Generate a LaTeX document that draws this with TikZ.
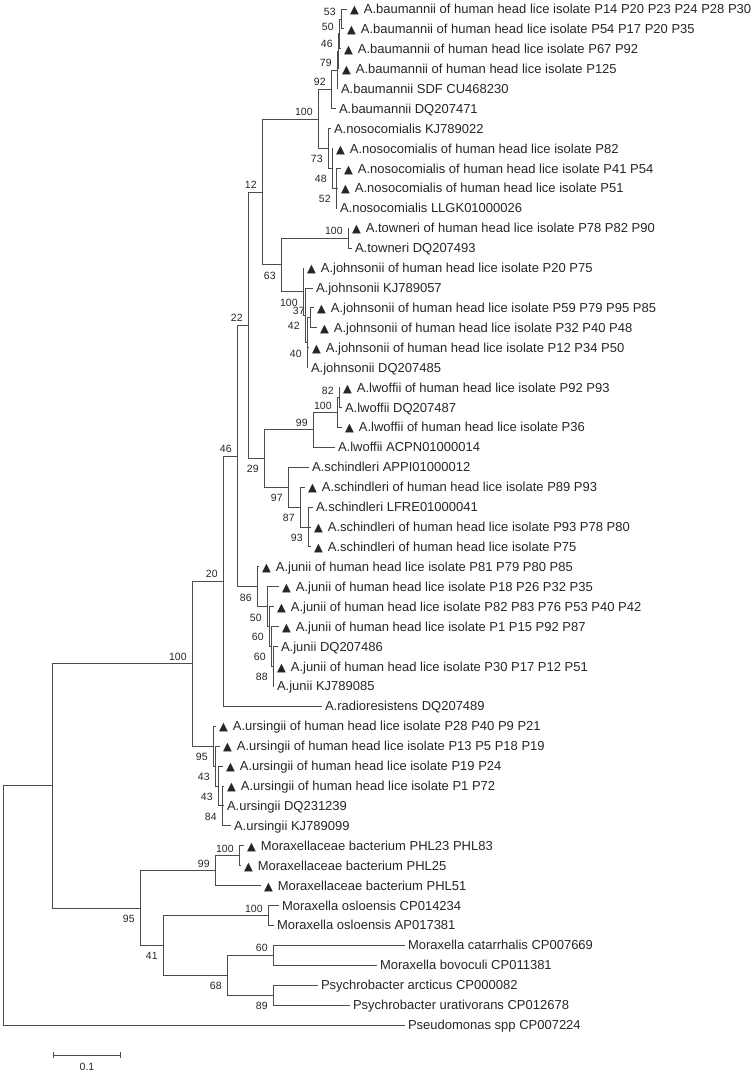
\documentclass[tikz,border=0pt]{standalone}
\usepackage{fontspec}
\setmainfont{Liberation Sans}
\newfontfamily\symfont{DejaVu Sans}
\usetikzlibrary{arrows.meta}

\newcommand{\tri}{{\symfont\fontsize{11.5}{13}\selectfont ▲}\hspace{5pt}}

\begin{document}
\begin{tikzpicture}[x=1pt,y=-1pt,line width=0.8pt,
    leaf/.style={anchor=west,inner xsep=3pt,inner ysep=0pt,outer sep=0pt,
      text height=9.3pt,text depth=0pt,font=\fontsize{13}{15}\selectfont,text=black!85},
    bs/.style={inner sep=1pt,xshift=-4pt,text height=7.5pt,text depth=0pt,
      font=\fontsize{10.5}{12}\selectfont,text=black!85},
    bsup/.style={bs,anchor=south east,yshift=2pt},
    bsdn/.style={bs,anchor=north east,yshift=-5.5pt},
    elbow/.style={draw=black!70,to path={|- (\tikztotarget)}}]
      \useasboundingbox (0,0) rectangle (755,1073);
      % inner nodes
      \coordinate (root) at (3,905.3);
      \coordinate (ing) at (52,785.7);
      \coordinate[label={[bsup]100}] (acin) at (192,663.6);
      \coordinate[label={[bsup]20}] (c20) at (223,581.1);
      \coordinate[label={[bsup]46}] (c46) at (237,455.9);
      \coordinate[label={[bsup]22}] (c22) at (248,325.2);
      \coordinate[label={[bsup]12}] (c12) at (262,191.9);
      \coordinate[label={[bsup]100}] (bn100) at (318,118.9);
      \coordinate[label={[bsup]92}] (b92) at (331,89.3);
      \coordinate[label={[bsup]79}] (b79) at (337,70);
      \coordinate[label={[bsup]46}] (b46) at (338,51.3);
      \coordinate[label={[bsup]50}] (b50) at (339,33.9);
      \coordinate[label={[bsup]53}] (b53) at (341,19);
      \coordinate[label={[bsdn]73}] (n73) at (328,148.4);
      \coordinate[label={[bsdn]48}] (n48) at (332,168.4);
      \coordinate[label={[bsdn]52}] (n52) at (336,188.3);
      \coordinate[label={[bsdn]63}] (c63) at (281,264.8);
      \coordinate[label={[bsup]100}] (t100) at (348,238.1);
      \coordinate[label={[bsdn]100}] (j100) at (303,291.6);
      \coordinate[label={[bsdn]42}] (j42) at (305,315.3);
      \coordinate[label={[bsdn]40}] (j40) at (307,342.7);
      \coordinate[label={[bsup]37}] (j37) at (310,317.8);
      \coordinate[label={[bsdn]29}] (c29) at (264,458.5);
      \coordinate[label={[bsup]99}] (l99) at (313,429.8);
      \coordinate[label={[bsup]100}] (l100) at (337,412.4);
      \coordinate[label={[bsup]82}] (l82) at (339,397.4);
      \coordinate[label={[bsdn]97}] (s97) at (288,487.1);
      \coordinate[label={[bsdn]87}] (s87) at (300,507);
      \coordinate[label={[bsdn]93}] (s93) at (308,526.9);
      \coordinate[label={[bsdn]86}] (ju86) at (257,586.7);
      \coordinate[label={[bsdn]50}] (ju50) at (267,606.6);
      \coordinate[label={[bsdn]60}] (ju60a) at (269,626.5);
      \coordinate[label={[bsdn]60}] (ju60b) at (271,646.4);
      \coordinate[label={[bsdn]88}] (ju88) at (273,666.4);
      \coordinate[label={[bsdn]95}] (ur95) at (213,746);
      \coordinate[label={[bsdn]43}] (ur43a) at (215,766);
      \coordinate[label={[bsdn]43}] (ur43b) at (218,785.9);
      \coordinate[label={[bsdn]84}] (ur84) at (222,805.8);
      \coordinate[label={[bsdn]95}] (mx95) at (140,907.9);
      \coordinate[label={[bsup]99}] (mx99) at (215,870.5);
      \coordinate[label={[bsup]100}] (mx100) at (239,855.6);
      \coordinate[label={[bsdn]41}] (mx41) at (163,945.2);
      \coordinate[label={[bsup]100}] (os100) at (268,915.4);
      \coordinate[label={[bsdn]68}] (mx68) at (227,975.1);
      \coordinate[label={[bsup]60}] (mc60) at (273,955.2);
      \coordinate[label={[bsdn]89}] (ps89) at (273,995);
      % leaves
      \node[leaf] (bau1) at (347,9) {\tri A.baumannii of human head lice isolate P14 P20 P23 P24 P28 P30};
      \node[leaf] (bau2) at (344,28.9) {\tri A.baumannii of human head lice isolate P54 P17 P20 P35};
      \node[leaf] (bau3) at (341,48.8) {\tri A.baumannii of human head lice isolate P67 P92};
      \node[leaf] (bau4) at (339,68.8) {\tri A.baumannii of human head lice isolate P125};
      \node[leaf] (bau5) at (338,88.7) {A.baumannii SDF CU468230};
      \node[leaf] (bau6) at (336,108.6) {A.baumannii DQ207471};
      \node[leaf] (noso1) at (331,128.5) {A.nosocomialis KJ789022};
      \node[leaf] (noso2) at (333,148.4) {\tri A.nosocomialis of human head lice isolate P82};
      \node[leaf] (noso3) at (341,168.4) {\tri A.nosocomialis of human head lice isolate P41 P54};
      \node[leaf] (noso4) at (338,188.3) {\tri A.nosocomialis of human head lice isolate P51};
      \node[leaf] (noso5) at (337,208.2) {A.nosocomialis LLGK01000026};
      \node[leaf] (tow1) at (349,228.1) {\tri A.towneri of human head lice isolate P78 P82 P90};
      \node[leaf] (tow2) at (352,248) {A.towneri DQ207493};
      \node[leaf] (joh1) at (304,268) {\tri A.johnsonii of human head lice isolate P20 P75};
      \node[leaf] (joh2) at (313,287.9) {A.johnsonii KJ789057};
      \node[leaf] (joh3) at (314,307.8) {\tri A.johnsonii of human head lice isolate P59 P79 P95 P85};
      \node[leaf] (joh4) at (317,327.7) {\tri A.johnsonii of human head lice isolate P32 P40 P48};
      \node[leaf] (joh5) at (309,347.6) {\tri A.johnsonii of human head lice isolate P12 P34 P50};
      \node[leaf] (joh6) at (308,367.6) {A.johnsonii DQ207485};
      \node[leaf] (lwo1) at (340,387.5) {\tri A.lwoffii of human head lice isolate P92 P93};
      \node[leaf] (lwo2) at (342,407.4) {A.lwoffii DQ207487};
      \node[leaf] (lwo3) at (342,427.3) {\tri A.lwoffii of human head lice isolate P36};
      \node[leaf] (lwo4) at (335,447.2) {A.lwoffii ACPN01000014};
      \node[leaf] (sch1) at (309,467.2) {A.schindleri APPI01000012};
      \node[leaf] (sch2) at (305,487.1) {\tri A.schindleri of human head lice isolate P89 P93};
      \node[leaf] (sch3) at (313,507) {A.schindleri LFRE01000041};
      \node[leaf] (sch4) at (311,526.9) {\tri A.schindleri of human head lice isolate P93 P78 P80};
      \node[leaf] (sch5) at (311,546.8) {\tri A.schindleri of human head lice isolate P75};
      \node[leaf] (jun1) at (259,566.8) {\tri A.junii of human head lice isolate P81 P79 P80 P85};
      \node[leaf] (jun2) at (279,586.7) {\tri A.junii of human head lice isolate P18 P26 P32 P35};
      \node[leaf] (jun3) at (274,606.6) {\tri A.junii of human head lice isolate P82 P83 P76 P53 P40 P42};
      \node[leaf] (jun4) at (279,626.5) {\tri A.junii of human head lice isolate P1 P15 P92 P87};
      \node[leaf] (jun5) at (278,646.4) {A.junii DQ207486};
      \node[leaf] (jun6) at (274,666.4) {\tri A.junii of human head lice isolate P30 P17 P12 P51};
      \node[leaf] (jun7) at (274,686.3) {A.junii KJ789085};
      \node[leaf] (rad) at (322,706.2) {A.radioresistens DQ207489};
      \node[leaf] (urs1) at (216,726.1) {\tri A.ursingii of human head lice isolate P28 P40 P9 P21};
      \node[leaf] (urs2) at (220,746) {\tri A.ursingii of human head lice isolate P13 P5 P18 P19};
      \node[leaf] (urs3) at (223,766) {\tri A.ursingii of human head lice isolate P19 P24};
      \node[leaf] (urs4) at (224,785.9) {\tri A.ursingii of human head lice isolate P1 P72};
      \node[leaf] (urs5) at (224,805.8) {A.ursingii DQ231239};
      \node[leaf] (urs6) at (231,825.7) {A.ursingii KJ789099};
      \node[leaf] (mor1) at (244,845.6) {\tri Moraxellaceae bacterium PHL23 PHL83};
      \node[leaf] (mor2) at (241,865.6) {\tri Moraxellaceae bacterium PHL25};
      \node[leaf] (mor3) at (261,885.5) {\tri Moraxellaceae bacterium PHL51};
      \node[leaf] (oslo1) at (279,905.4) {Moraxella osloensis CP014234};
      \node[leaf] (oslo2) at (274,925.3) {Moraxella osloensis AP017381};
      \node[leaf] (cat) at (405,945.2) {Moraxella catarrhalis CP007669};
      \node[leaf] (bov) at (377,965.2) {Moraxella bovoculi CP011381};
      \node[leaf] (parc) at (318,985.1) {Psychrobacter arcticus CP000082};
      \node[leaf] (pura) at (350,1005) {Psychrobacter urativorans CP012678};
      \node[leaf] (pseu) at (405,1024.9) {Pseudomonas spp CP007224};
      % branches
      \path (root) edge[elbow] (ing);
      \path (root) edge[elbow] (pseu);
      \path (ing) edge[elbow] (acin);
      \path (ing) edge[elbow] (mx95);
      \path (acin) edge[elbow] (c20);
      \path (acin) edge[elbow] (ur95);
      \path (c20) edge[elbow] (c46);
      \path (c20) edge[elbow] (rad);
      \path (c46) edge[elbow] (c22);
      \path (c46) edge[elbow] (ju86);
      \path (c22) edge[elbow] (c12);
      \path (c22) edge[elbow] (c29);
      \path (c12) edge[elbow] (bn100);
      \path (c12) edge[elbow] (c63);
      \path (bn100) edge[elbow] (b92);
      \path (bn100) edge[elbow] (n73);
      \path (b92) edge[elbow] (b79);
      \path (b92) edge[elbow] (bau6);
      \path (b79) edge[elbow] (b46);
      \path (b79) edge[elbow] (bau5);
      \path (b46) edge[elbow] (b50);
      \path (b46) edge[elbow] (bau4);
      \path (b50) edge[elbow] (b53);
      \path (b50) edge[elbow] (bau3);
      \path (b53) edge[elbow] (bau1);
      \path (b53) edge[elbow] (bau2);
      \path (n73) edge[elbow] (noso1);
      \path (n73) edge[elbow] (n48);
      \path (n48) edge[elbow] (noso2);
      \path (n48) edge[elbow] (n52);
      \path (n52) edge[elbow] (noso3);
      \path (n52) edge[elbow] (noso4);
      \path (n52) edge[elbow] (noso5);
      \path (c63) edge[elbow] (t100);
      \path (c63) edge[elbow] (j100);
      \path (t100) edge[elbow] (tow1);
      \path (t100) edge[elbow] (tow2);
      \path (j100) edge[elbow] (joh1);
      \path (j100) edge[elbow] (j42);
      \path (j42) edge[elbow] (joh2);
      \path (j42) edge[elbow] (j40);
      \path (j40) edge[elbow] (j37);
      \path (j40) edge[elbow] (joh5);
      \path (j40) edge[elbow] (joh6);
      \path (j37) edge[elbow] (joh3);
      \path (j37) edge[elbow] (joh4);
      \path (c29) edge[elbow] (l99);
      \path (c29) edge[elbow] (s97);
      \path (l99) edge[elbow] (l100);
      \path (l99) edge[elbow] (lwo4);
      \path (l100) edge[elbow] (l82);
      \path (l100) edge[elbow] (lwo3);
      \path (l82) edge[elbow] (lwo1);
      \path (l82) edge[elbow] (lwo2);
      \path (s97) edge[elbow] (sch1);
      \path (s97) edge[elbow] (s87);
      \path (s87) edge[elbow] (sch2);
      \path (s87) edge[elbow] (s93);
      \path (s93) edge[elbow] (sch3);
      \path (s93) edge[elbow] (sch4);
      \path (s93) edge[elbow] (sch5);
      \path (ju86) edge[elbow] (jun1);
      \path (ju86) edge[elbow] (ju50);
      \path (ju50) edge[elbow] (jun2);
      \path (ju50) edge[elbow] (ju60a);
      \path (ju60a) edge[elbow] (jun3);
      \path (ju60a) edge[elbow] (ju60b);
      \path (ju60b) edge[elbow] (jun4);
      \path (ju60b) edge[elbow] (ju88);
      \path (ju88) edge[elbow] (jun5);
      \path (ju88) edge[elbow] (jun6);
      \path (ju88) edge[elbow] (jun7);
      \path (ur95) edge[elbow] (urs1);
      \path (ur95) edge[elbow] (ur43a);
      \path (ur43a) edge[elbow] (urs2);
      \path (ur43a) edge[elbow] (ur43b);
      \path (ur43b) edge[elbow] (urs3);
      \path (ur43b) edge[elbow] (ur84);
      \path (ur84) edge[elbow] (urs4);
      \path (ur84) edge[elbow] (urs5);
      \path (ur84) edge[elbow] (urs6);
      \path (mx95) edge[elbow] (mx99);
      \path (mx95) edge[elbow] (mx41);
      \path (mx99) edge[elbow] (mx100);
      \path (mx99) edge[elbow] (mor3);
      \path (mx100) edge[elbow] (mor1);
      \path (mx100) edge[elbow] (mor2);
      \path (mx41) edge[elbow] (os100);
      \path (mx41) edge[elbow] (mx68);
      \path (os100) edge[elbow] (oslo1);
      \path (os100) edge[elbow] (oslo2);
      \path (mx68) edge[elbow] (mc60);
      \path (mx68) edge[elbow] (ps89);
      \path (mc60) edge[elbow] (cat);
      \path (mc60) edge[elbow] (bov);
      \path (ps89) edge[elbow] (parc);
      \path (ps89) edge[elbow] (pura);
      % scale bar
      \coordinate (sbl) at (53,1055);
      \coordinate (sbr) at (121,1055);
      \draw[draw=black!70,{Bar[width=6pt]}-{Bar[width=6pt]}] (sbl) -- (sbr)
        node[bs,midway,anchor=north,xshift=4pt,yshift=-6.5pt] (sbtext) {0.1};
\end{tikzpicture}
\end{document}
